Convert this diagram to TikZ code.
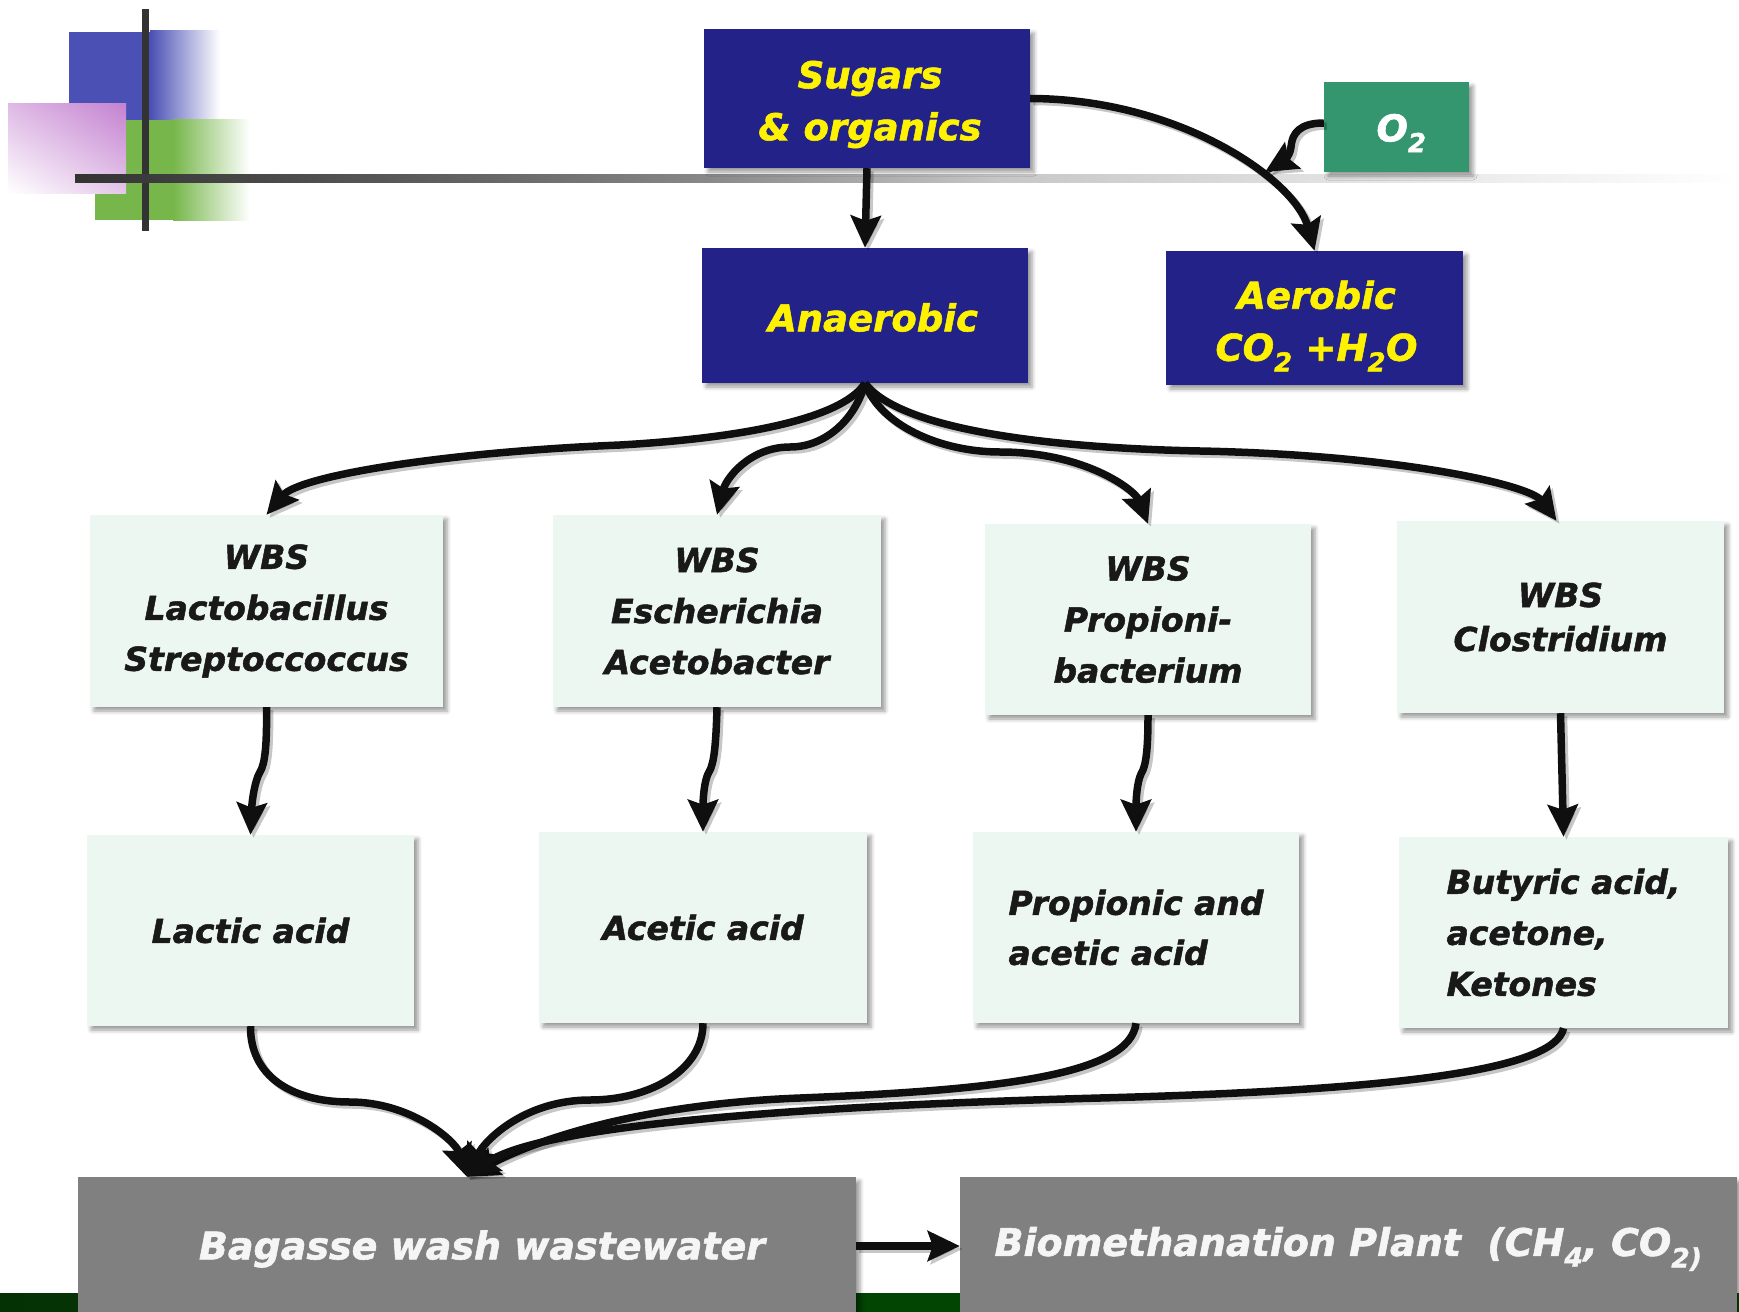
\documentclass[tikz,border=0pt]{standalone}
\usepackage{fontspec}
\setmainfont{DejaVu Sans}[BoldItalicFeatures={FakeBold=1.5}]
\usetikzlibrary{arrows.meta,shadows,shadows.blur,shadings}
\definecolor{navy}{RGB}{34,34,136}
\definecolor{oxy}{RGB}{51,150,110}
\definecolor{mint}{RGB}{237,247,242}
\definecolor{boxgray}{RGB}{128,128,128}
\definecolor{decoblue}{RGB}{74,80,180}
\definecolor{decogreen}{RGB}{118,182,74}
\definecolor{decopink}{RGB}{196,130,208}
\definecolor{decodark}{RGB}{51,51,51}
\definecolor{barleft}{RGB}{5,50,5}
\definecolor{barright}{RGB}{0,85,0}
\newcommand\topfnt{\fontsize{37}{52}\selectfont\bfseries\itshape}
\newcommand\midfnt{\fontsize{33}{51}\selectfont\bfseries\itshape}
\newcommand\lowfnt{\fontsize{38}{50}\selectfont\bfseries\itshape}
\tikzset{
  shd/.style={blur shadow={shadow xshift=4pt,shadow yshift=-4pt,shadow blur radius=4pt,shadow opacity=40}},
  navybox/.style={shd,fill=navy,inner sep=0pt},
  toptext/.style={text=yellow,font=\topfnt,align=center,inner sep=0pt},
  oxybox/.style={shd,fill=oxy,inner sep=0pt},
  mintbox/.style={shd,fill=mint,text=black!90,font=\midfnt,align=center,inner sep=0pt,
                  minimum width=326pt,minimum height=191pt},
  graybox/.style={shd,fill=boxgray,inner sep=0pt,minimum width=777pt,minimum height=138pt},
  lowtext/.style={text=black!4,font=\lowfnt,align=center,inner sep=0pt},
  conn/.style={line width=7.5pt,draw=black!94,-{Stealth[length=32pt,width=30pt,inset=5pt]},
     preaction={draw=black,opacity=0.22,line width=7.5pt,transform canvas={shift={(3pt,-3pt)}}}}
}
\begin{document}
\begin{tikzpicture}[x=1pt,y=-1pt]
\useasboundingbox (0,0) rectangle (1739,1311);
% decoration top left
\fill[decoblue] (69,32) rectangle (150,120);
\shade[left color=decoblue,right color=white] (150,31) rectangle (220,120);
\fill[decogreen] (95,120) rectangle (173,220);
\shade[left color=decogreen,right color=white] (173,120) rectangle (250,220);
\shade[upper right=decopink,lower left=white,upper left=decopink!55!white,lower right=decopink!45!white]
  (8,104) rectangle (126,193);
\fill[decodark] (142,9) rectangle (149,231);
\shade[left color=decodark,right color=black!65] (75,174) rectangle (400,182);
\shade[left color=black!65,right color=black!47] (400,174) rectangle (700,182);
\shade[left color=black!47,right color=black!22] (700,174) rectangle (1000,182);
\shade[left color=black!22,right color=black!11] (1000,174) rectangle (1350,182);
\shade[left color=black!11,right color=white] (1350,174) rectangle (1739,182);
% bottom bar
\shade[left color=barleft,right color=barright] (0,1293) rectangle (1739,1311);

% boxes
\node[navybox,minimum width=326pt,minimum height=139pt,
      label={[toptext,xshift=3pt,yshift=-6pt]center:{Sugars\\\& organics}}] (sugars) at (867,98.5) {};
\node[oxybox,minimum width=145pt,minimum height=90pt,
      label={[toptext,text=white,xshift=5pt,yshift=-6pt]center:{O\textsubscript{2}}}] (o2) at (1396.5,127) {};
\node[navybox,minimum width=326pt,minimum height=135pt,
      label={[toptext,xshift=8pt,yshift=-2pt]center:{Anaerobic}}] (anaer) at (865,315.5) {};
\node[navybox,minimum width=297pt,minimum height=134pt,
      label={[toptext,xshift=2pt,yshift=-8pt]center:{Aerobic\\CO\textsubscript{2} +H\textsubscript{2}O}}] (aerob) at (1314.5,318) {};

\node[mintbox,minimum width=353pt,minimum height=192pt] (wbs1) at (266.5,611) {WBS\\Lactobacillus\\Streptoccoccus};
\node[mintbox,minimum width=328pt,minimum height=192pt] (wbs2) at (717,611) {WBS\\Escherichia\\Acetobacter};
\node[mintbox] (wbs3) at (1148,619.5) {WBS\\Propioni-\\bacterium};
\node[mintbox,minimum width=327pt,minimum height=192pt,font=\fontsize{33}{44}\selectfont\bfseries\itshape] (wbs4) at (1560.5,617) {WBS\\Clostridium};

\node[mintbox,minimum width=327pt] (lactic) at (250.5,930.5) {Lactic acid};
\node[mintbox,minimum width=328pt] (acetic) at (703,927.5) {Acetic acid};
\node[mintbox,align=left,font=\fontsize{33}{50}\selectfont\bfseries\itshape] (prop) at (1136,927.5) {Propionic and\\acetic acid};
\node[mintbox,minimum width=329pt,align=left] (buty) at (1563.5,932.5) {Butyric acid,\\acetone,\\Ketones};

\node[graybox,minimum width=778pt,
      label={[lowtext,xshift=15pt,yshift=-3pt]center:{Bagasse wash wastewater}}] (bag) at (467,1246) {};
\node[graybox,
      label={[lowtext,yshift=-3pt]center:{Biomethanation Plant\ \ (CH\textsubscript{4}, CO\textsubscript{2)}}}] (bio) at (1348.5,1246) {};

% connectors
\draw[conn] (sugars.south) -- (anaer.north);
\draw[conn] (sugars.east) .. controls (1180,99) and (1295,180) .. (aerob.north);
\coordinate (o2tip) at (1265,172);
\draw[conn] (o2.west) ++(0,-4) .. controls (1300,123) and (1292,133) .. (1291,147)
   .. controls (1290,158) and (1280,163) .. (o2tip);

\draw[conn] (anaer.south) .. controls (845,415) and (760,437) .. (620,445)
   .. controls (450,452) and (300,475) .. (wbs1.north);
\draw[conn] (anaer.south) .. controls (855,420) and (825,447) .. (790,447)
   .. controls (750,447) and (726,478) .. (wbs2.north);
\draw[conn] (anaer.south) .. controls (880,425) and (940,452) .. (1000,452)
   .. controls (1085,452) and (1135,490) .. (wbs3.north);
\draw[conn] (anaer.south) .. controls (900,430) and (1050,448) .. (1200,451)
   .. controls (1400,455) and (1530,485) .. ([xshift=-4pt]wbs4.north);

\draw[conn] (wbs1.south) .. controls (267,745) and (265,764) .. (260,772)
   .. controls (255,780) and (252,800) .. (lactic.north);
\draw[conn] (wbs2.south) .. controls (716,745) and (714,764) .. (709,772)
   .. controls (704,780) and (703,800) .. (acetic.north);
\draw[conn] (wbs3.south) .. controls (1148,750) and (1146,766) .. (1141,774)
   .. controls (1137,782) and (1136,800) .. (prop.north);
\draw[conn] (wbs4.south) -- (buty.north);

\draw[conn] (lactic.south) .. controls (250,1075) and (290,1102) .. (350,1102)
   .. controls (410,1102) and (455,1140) .. (bag.north);
\draw[conn] (acetic.south) .. controls (703,1070) and (650,1100) .. (590,1100)
   .. controls (525,1100) and (485,1140) .. (bag.north);
\draw[conn] (prop.south) .. controls (1130,1075) and (1000,1090) .. (800,1098)
   .. controls (620,1105) and (520,1148) .. (bag.north);
\draw[conn] (buty.south) .. controls (1555,1070) and (1400,1090) .. (1100,1098)
   .. controls (800,1106) and (540,1125) .. (bag.north);

\draw[conn] (bag.east) -- (bio.west);
\end{tikzpicture}
\end{document}
